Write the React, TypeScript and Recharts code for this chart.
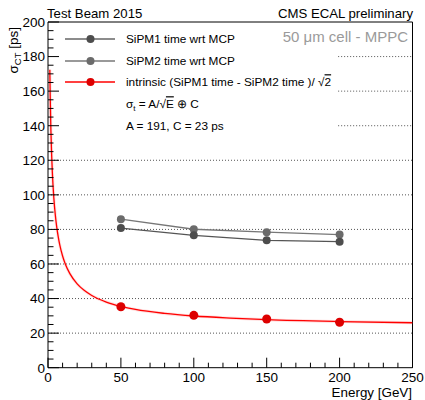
import {
  ComposedChart,
  Line,
  ReferenceArea,
  ReferenceLine,
  Scatter,
  XAxis,
  YAxis,
} from "recharts";

const energy = [50, 100, 150, 200];
const sipm1 = [80.8, 76.6, 73.7, 72.9];
const sipm2 = [85.9, 80.1, 78.4, 77.0];
const intrinsic = [35.3, 30.3, 28.2, 26.3];

// fit curve sigma_t = A/sqrt(E) (+) C
const fitEnergy = [1.25, 1.5, 2, 2.5, 3, 4, 5, 6, 7, 8, 10, 12, 15, 20, 25, 30, 40, 50, 60, 80, 100, 125, 150, 200, 250];
const fitSigma = [172.4, 157.6, 137.0, 123.0, 112.6, 98.2, 88.5, 81.3, 75.8, 71.3, 64.6, 59.7, 54.4, 48.5, 44.6, 41.8, 38.0, 35.5, 33.7, 31.4, 29.9, 28.7, 27.8, 26.7, 26.0];

const xTicks = [0, 10, 20, 30, 40, 50, 60, 70, 80, 90, 100, 110, 120, 130, 140, 150, 160, 170, 180, 190, 200, 210, 220, 230, 240, 250];
const yTicks = Array.from({ length: 41 }, (_, i) => i * 5);
const gridValues = [20, 40, 60, 80, 100, 120, 140, 160, 180];
const legendRight = 199; // legend box hides grid left of this energy

const seriesNames = [
  "SiPM1 time wrt MCP",
  "SiPM2 time wrt MCP",
  "intrinsic (SiPM1 time - SiPM2 time )/ ",
];

const FONT = "'Liberation Sans', Arial, Helvetica, sans-serif";
const C1 = "#4d4d4d";
const C2 = "#6b6b6b";
const RED = "#dd0000";

const toPts = (xs: number[], ys: number[]) => xs.map((x, i) => ({ x, y: ys[i] }));

function XTick({ x, y, payload }: any) {
  const major = payload.value % 50 === 0;
  return (
    <g>
      <line x1={x} x2={x} y1={y} y2={y - (major ? 10 : 5)} stroke="#000" />
      {major && (
        <text x={x} y={y + 14.5} textAnchor="middle" fontSize={13.5} fontFamily={FONT} fill="#000">
          {payload.value}
        </text>
      )}
    </g>
  );
}

function YTick({ x, y, payload }: any) {
  const major = payload.value % 20 === 0;
  return (
    <g>
      <line x1={x} x2={x + (major ? 11 : 5.5)} y1={y} y2={y} stroke="#000" />
      {major && (
        <text x={x - 3} y={y} dy="0.36em" textAnchor="end" fontSize={13.5} fontFamily={FONT} fill="#000">
          {payload.value}
        </text>
      )}
    </g>
  );
}

function Overlay() {
  const rows = [39, 61, 82];
  const colors = [C1, C2, RED];
  const lineColors = ["#666", "#777", "#ff0000"];
  return (
    <svg width={425} height={400} style={{ position: "absolute", left: 0, top: 0, pointerEvents: "none" }} fontFamily={FONT}>
      <text x={47} y={18} fontSize={13.2}>Test Beam 2015</text>
      <text x={413} y={17.5} fontSize={13.2} textAnchor="end">CMS ECAL preliminary</text>
      <text x={408} y={41.5} fontSize={15} textAnchor="end" fill="#9a9a9a">50 μm cell - MPPC</text>
      <text transform="translate(18,27) rotate(-90)" textAnchor="end" fontSize={13.5}>
        σ<tspan fontSize={9.5} dy={3}>CT</tspan>
        <tspan dy={-3}> [ps]</tspan>
      </text>
      <text x={412} y={397} fontSize={13.4} textAnchor="end">Energy [GeV]</text>
      {seriesNames.map((name, i) => (
        <g key={name}>
          <line x1={65} x2={115} y1={rows[i]} y2={rows[i]} stroke={lineColors[i]} strokeWidth={1.3} />
          <circle cx={90.5} cy={rows[i]} r={4} fill={colors[i]} />
          <text x={126} y={rows[i]} dy="0.36em" fontSize={11.8}>
            {name}
            {i === 2 && (
              <>
                √<tspan style={{ textDecoration: "overline" }}>2</tspan>
              </>
            )}
          </text>
        </g>
      ))}
      <text x={126} y={104} dy="0.36em" fontSize={11.8}>
        σ<tspan fontSize={8} dy={3}>t</tspan>
        <tspan dy={-3}> = A/√</tspan>
        <tspan style={{ textDecoration: "overline" }}>E</tspan>
        <tspan> ⊕ C</tspan>
      </text>
      <text x={126} y={126} dy="0.36em" fontSize={11.8}>A = 191, C = 23 ps</text>
    </svg>
  );
}

export default function App() {
  return (
    <div style={{ position: "absolute", left: 0, top: 0, width: 425, height: 400, background: "#fff" }}>
      <ComposedChart width={425} height={400} margin={{ top: 22, right: 12.5, bottom: 2.3, left: 8 }}>
        <XAxis
          xAxisId={0}
          type="number"
          dataKey="x"
          domain={[0, 250]}
          allowDataOverflow
          ticks={xTicks}
          interval={0}
          tickSize={0}
          tickMargin={0}
          tickLine={false}
          axisLine={false}
          tick={<XTick />}
          height={30}
        />
        <YAxis
          yAxisId={0}
          type="number"
          dataKey="y"
          domain={[0, 200]}
          allowDataOverflow
          ticks={yTicks}
          interval={0}
          tickSize={0}
          tickMargin={0}
          tickLine={false}
          axisLine={false}
          tick={<YTick />}
          width={40}
        />
        {gridValues.map((v) =>
          v >= 140 ? (
            <ReferenceLine
              key={v}
              segment={[{ x: legendRight, y: v }, { x: 250, y: v }]}
              stroke="#555"
              strokeDasharray="1 2"
            />
          ) : (
            <ReferenceLine key={v} y={v} stroke="#555" strokeDasharray="1 2" />
          )
        )}
        <ReferenceArea x1={0} x2={250} y1={0} y2={200} fill="none" stroke="#000" strokeWidth={1} />
        <Line
          data={toPts(fitEnergy, fitSigma)}
          dataKey="y"
          type="monotone"
          stroke="#ff8080"
          strokeOpacity={0.25}
          strokeWidth={3}
          dot={false}
          isAnimationActive={false}
        />
        <Line
          data={toPts(fitEnergy, fitSigma)}
          dataKey="y"
          type="monotone"
          stroke="#ff0000"
          strokeWidth={1.3}
          dot={false}
          isAnimationActive={false}
        />
        <Line
          data={toPts(energy, sipm2)}
          dataKey="y"
          stroke="#777"
          strokeWidth={1.3}
          dot={{ r: 4, fill: C2, stroke: "none" }}
          isAnimationActive={false}
        />
        <Line
          data={toPts(energy, sipm1)}
          dataKey="y"
          stroke="#555"
          strokeWidth={1.3}
          dot={{ r: 4, fill: C1, stroke: "none" }}
          isAnimationActive={false}
        />
        <Scatter data={toPts(energy, intrinsic)} dataKey="y" fill={RED} shape="circle" isAnimationActive={false} />
      </ComposedChart>
      <Overlay />
    </div>
  );
}
